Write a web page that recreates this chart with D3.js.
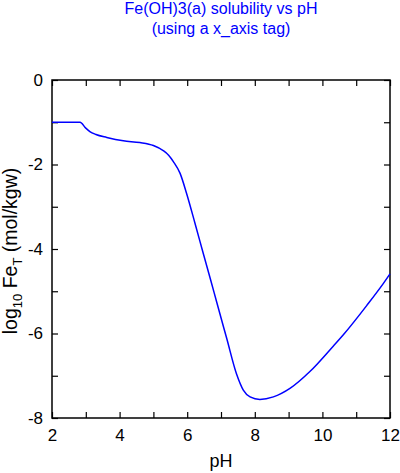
<!DOCTYPE html>
<html>
<head>
<meta charset="utf-8">
<script src="https://cdn.jsdelivr.net/npm/d3@7"></script>
<style>
  body { margin: 0; background: #fff; }
  svg { font-family: "Liberation Sans", Arial, sans-serif; }
  .tick line { stroke: #000; stroke-width: 1.2; }
  .domain { display: none; }
</style>
</head>
<body>
<div id="chart"></div>
<script>
const width = 400
const height = 473
const margin = { top: 80, right: 10, bottom: 55, left: 52 }

const titleLines = ['Fe(OH)3(a) solubility vs pH', '(using a x_axis tag)']
const xTicks = [2, 3, 4, 5, 6, 7, 8, 9, 10, 11, 12]
const xLabels = [2, 4, 6, 8, 10, 12]
const yTicks = [0, -1, -2, -3, -4, -5, -6, -7, -8]
const yLabels = [0, -2, -4, -6, -8]

// values
const pH = [2, 2.5, 2.83, 3.0, 3.12, 3.3, 3.62, 4.11, 4.6, 5.0, 5.29, 5.45, 5.59,
  5.79, 5.98, 6.23, 6.48, 6.7, 6.87, 7.17, 7.46, 7.66, 7.86, 8.15, 8.55, 9.04,
  9.63, 10.32, 10.62, 11.31, 11.8, 12.0]
const logFe = [-1, -1, -1, -1.14, -1.22, -1.29, -1.36, -1.44, -1.48, -1.55, -1.67,
  -1.78, -1.93, -2.21, -2.68, -3.39, -4.12, -4.75, -5.25, -6.12, -6.96, -7.34,
  -7.5, -7.56, -7.5, -7.3, -6.9, -6.3, -6.03, -5.34, -4.82, -4.59]

const data = pH.map((x, i) => ({ x, y: logFe[i] }))

const w = width - margin.left - margin.right
const h = height - margin.top - margin.bottom

const svg = d3.select('#chart').append('svg')
  .attr('width', width)
  .attr('height', height)

const g = svg.append('g')
  .attr('transform', `translate(${margin.left},${margin.top})`)

const xScale = d3.scaleLinear().domain([2, 12]).range([0, w])
const yScale = d3.scaleLinear().domain([-8, 0]).range([h, 0])

const fmt = d => (xLabels.includes(d) ? d : '')
const fmtY = d => (yLabels.includes(d) ? d : '')

// bottom axis with labels
g.append('g')
  .attr('transform', `translate(0,${h})`)
  .call(d3.axisBottom(xScale).tickValues(xTicks).tickFormat(fmt)
    .tickSizeInner(-6).tickSizeOuter(0).tickPadding(11))
  .call(s => s.selectAll('text').attr('font-size', 17).attr('fill', '#000'))

// top axis, ticks only
g.append('g')
  .call(d3.axisTop(xScale).tickValues(xTicks).tickFormat('')
    .tickSizeInner(-6).tickSizeOuter(0))

// left axis with labels
g.append('g')
  .call(d3.axisLeft(yScale).tickValues(yTicks).tickFormat(fmtY)
    .tickSizeInner(-6).tickSizeOuter(0).tickPadding(9))
  .call(s => s.selectAll('text').attr('font-size', 17).attr('fill', '#000'))

// right axis, ticks only
g.append('g')
  .attr('transform', `translate(${w},0)`)
  .call(d3.axisRight(yScale).tickValues(yTicks).tickFormat('')
    .tickSizeInner(-6).tickSizeOuter(0))

// frame
g.append('rect')
  .attr('width', w)
  .attr('height', h)
  .attr('fill', 'none')
  .attr('stroke', '#000')
  .attr('stroke-width', 1.5)

const line = d3.line()
  .x(d => xScale(d.x))
  .y(d => yScale(d.y))
  .curve(d3.curveMonotoneX)

g.append('path')
  .datum(data)
  .attr('d', line)
  .attr('fill', 'none')
  .attr('stroke', '#0000ff')
  .attr('stroke-width', 1.5)

// title
svg.append('text')
  .attr('x', margin.left + w / 2)
  .attr('y', 14)
  .attr('text-anchor', 'middle')
  .attr('font-size', 16)
  .attr('fill', '#0000ff')
  .selectAll('tspan')
  .data(titleLines)
  .join('tspan')
  .attr('x', margin.left + w / 2)
  .attr('dy', (d, i) => (i ? 20 : 0))
  .text(d => d)

// x axis label
svg.append('text')
  .attr('x', margin.left + w / 2)
  .attr('y', 467)
  .attr('text-anchor', 'middle')
  .attr('font-size', 18)
  .text('pH')

// y axis label
const yl = svg.append('text')
  .attr('transform', `translate(17,${margin.top + h / 2 + 2}) rotate(-90)`)
  .attr('text-anchor', 'middle')
  .attr('font-size', 19.5)
yl.append('tspan').text('log')
yl.append('tspan').attr('font-size', 13).attr('dy', 5).text('10')
yl.append('tspan').attr('dy', -5).text(' Fe')
yl.append('tspan').attr('font-size', 13).attr('dy', 5).text('T')
yl.append('tspan').attr('dy', -5).text(' (mol/kgw)')
</script>
</body>
</html>
